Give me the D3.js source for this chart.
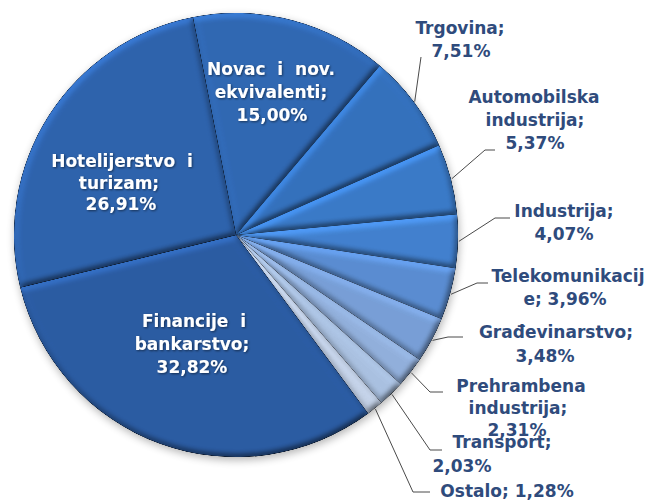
<!DOCTYPE html>
<html>
<head>
<meta charset="utf-8">
<script src="https://cdn.jsdelivr.net/npm/d3@7"></script>
<style>
  body { margin: 0; background: #fff; }
  svg { display: block; }
  text { font-family: "DejaVu Sans", sans-serif; font-weight: bold; font-size: 17px; white-space: pre; }
</style>
</head>
<body>
<div id="chart"></div>
<script>
// dimensiones
const width = 653
const height = 502
const cx = 236, cy = 235, radius = 222
const startDeg = -11.2

// datos
const sectors = ["Novac i nov. ekvivalenti", "Trgovina", "Automobilska industrija", "Industrija", "Telekomunikacije",
  "Građevinarstvo", "Prehrambena industrija", "Transport", "Ostalo", "Financije i bankarstvo", "Hotelijerstvo i turizam"]
const shares = [15.00, 7.51, 5.37, 4.07, 3.96, 3.48, 2.31, 2.03, 1.28, 32.82, 26.91]
const labelLines = [
  ["Novac  i  nov.", "ekvivalenti;", "15,00%"],
  ["Trgovina;", "7,51%"],
  ["Automobilska", "industrija;", "5,37%"],
  ["Industrija;", "4,07%"],
  ["Telekomunikacij", "e; 3,96%"],
  ["Građevinarstvo;", "3,48%"],
  ["Prehrambena", "industrija;", "2,31%"],
  ["Transport;", "2,03%"],
  ["Ostalo; 1,28%"],
  ["Financije  i", "bankarstvo;", "32,82%"],
  ["Hotelijerstvo  i", "turizam;", "26,91%"]
]

// colores
const colors = ["#3068b3", "#3471bd", "#3a7ac8", "#4281cf", "#5a8dd2", "#789fd7",
  "#92b0dc", "#aac1e1", "#c3d1e7", "#2b5ca3", "#2e63ad"]

// posición de etiquetas (layout)
const labelLayout = [
  { inside: true, xs: [271, 271, 272], y: 75, dy: 23 },
  { xs: [460, 461], y: 34, dy: 23, elbow: [421, 57], end: [421, 57] },
  { xs: [534, 535, 535], y: 103, dy: 23, elbow: [485, 150], end: [495, 150] },
  { xs: [564, 564], y: 217, dy: 23, elbow: [495, 218], end: [510, 218] },
  { xs: [568, 565], y: 282, dy: 23, elbow: [477, 283], end: [488, 283] },
  { xs: [556, 545], y: 338, dy: 24, elbow: [448, 337], end: [463, 337] },
  { xs: [521, 518, 517], y: 392, dy: 22, elbow: [430, 392], end: [443, 392] },
  { xs: [502, 462], y: 448, dy: 24, elbow: [430, 450], end: [442, 450] },
  { xs: [507], y: 497, dy: 23, elbow: [413, 492], end: [430, 492] },
  { inside: true, xs: [194, 192, 192], y: 327, dy: 23 },
  { inside: true, xs: [122, 119, 121], y: 167, dy: 21.5 }
]

const svg = d3.select("div#chart").append("svg").attr("width", width).attr("height", height)

// filtros
const defs = svg.append("defs")
const elev = 55
const bevel = defs.append("filter").attr("id", "bevel").attr("color-interpolation-filters", "sRGB")
  .attr("x", "-5%").attr("y", "-5%").attr("width", "110%").attr("height", "110%")
bevel.append("feGaussianBlur").attr("in", "SourceAlpha").attr("stdDeviation", 3).attr("result", "blur")
bevel.append("feDiffuseLighting").attr("in", "blur").attr("surfaceScale", 2.2)
  .attr("diffuseConstant", 0.5 / Math.sin(elev * Math.PI / 180))
  .attr("lighting-color", "#fff").attr("result", "light")
  .append("feDistantLight").attr("azimuth", 240).attr("elevation", elev)
bevel.append("feComposite").attr("in", "SourceGraphic").attr("in2", "light").attr("operator", "arithmetic")
  .attr("k1", 2).attr("k2", 0).attr("k3", 0).attr("k4", 0)

const shadow = defs.append("filter").attr("id", "shadow").attr("x", "-10%").attr("y", "-10%").attr("width", "120%").attr("height", "120%")
shadow.append("feGaussianBlur").attr("stdDeviation", 4)

const textShadow = defs.append("filter").attr("id", "tshadow")
textShadow.append("feDropShadow").attr("dx", 1).attr("dy", 1).attr("stdDeviation", 1)
  .attr("flood-color", "#000").attr("flood-opacity", 0.5)

// pie
const data = sectors.map((s, i) => ({ name: s, value: shares[i], color: colors[i], lines: labelLines[i], layout: labelLayout[i] }))
const toRad = d => d * Math.PI / 180
const pie = d3.pie().sort(null).value(d => d.value)
  .startAngle(toRad(startDeg)).endAngle(toRad(startDeg + 360))
const arcs = pie(data)
const arc = d3.arc().innerRadius(0).outerRadius(radius)

const pieGroup = svg.append("g").attr("transform", `translate(${cx}, ${cy})`)

pieGroup.append("circle").attr("cx", 1).attr("cy", 3).attr("r", radius)
  .attr("fill", "#000").attr("opacity", 0.3).attr("filter", "url(#shadow)")

pieGroup.selectAll("path.slice")
  .data(arcs)
  .enter()
  .append("path")
  .attr("class", "slice")
  .attr("d", arc)
  .attr("fill", d => d.data.color)
  .attr("filter", "url(#bevel)")

// líneas guía
const labelGroup = svg.append("g")
arcs.forEach(d => {
  const l = d.data.layout
  if (l.inside) return
  const a = (d.startAngle + d.endAngle) / 2
  const p0 = [cx + Math.sin(a) * (radius + 1), cy - Math.cos(a) * (radius + 1)]
  labelGroup.append("polyline")
    .attr("points", [p0, l.elbow, l.end].map(p => p.join(",")).join(" "))
    .attr("fill", "none").attr("stroke", "#4a4a4a").attr("stroke-width", 1)
})

// etiquetas
arcs.forEach(d => {
  const l = d.data.layout
  const t = labelGroup.append("text")
    .attr("text-anchor", "middle")
    .attr("fill", l.inside ? "#ffffff" : "#2f4b7c")
  if (l.inside) t.attr("filter", "url(#tshadow)")
  d.data.lines.forEach((line, j) => {
    t.append("tspan").attr("x", l.xs[j]).attr("y", l.y + j * l.dy).text(line)
  })
})
</script>
</body>
</html>
